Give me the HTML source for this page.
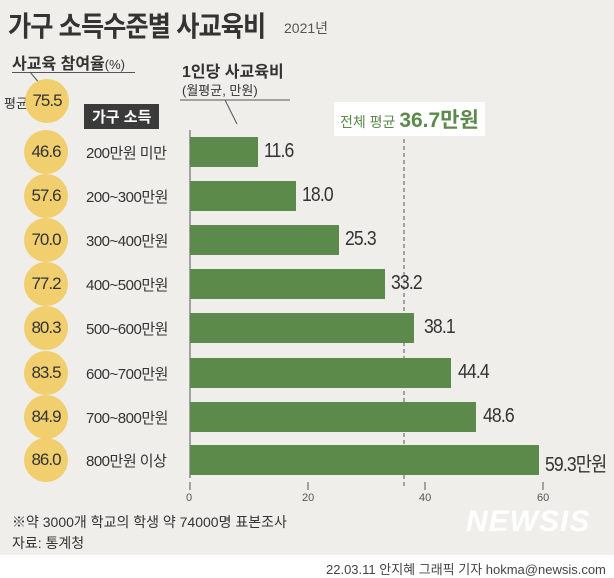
<!DOCTYPE html><html><head><meta charset="utf-8"><style>
body{margin:0;width:614px;height:578px;overflow:hidden;background:#efeeea;font-family:"Liberation Sans","Noto Sans CJK KR",sans-serif;position:relative;color:#333}
.a{position:absolute;white-space:nowrap}
.c{position:absolute;width:44px;height:44px;border-radius:50%;background:#f1cf6e;text-align:center;line-height:44px;font-size:17px;color:#333;letter-spacing:-1px}
.bar{position:absolute;left:190px;height:30px;background:#5c8a4a}
.l{font-size:15px;color:#333;letter-spacing:-0.5px}
.v{font-size:20px;color:#333;letter-spacing:-1px;transform:scaleX(0.88);transform-origin:left}
</style></head><body>
<div class="a" style="left:8px;top:5px;font-size:28px;font-weight:bold;color:#333;letter-spacing:-1px;transform:scaleX(0.9);transform-origin:left">가구 소득수준별 사교육비</div>
<div class="a" style="left:284px;top:18px;font-size:14px;color:#555">2021년</div>
<div class="a" style="left:12px;top:50px;font-size:16px;font-weight:bold">사교육 참여율<span style="font-weight:normal;font-size:13px">(%)</span></div>
<div class="a" style="left:12px;top:72px;width:123px;border-top:1px solid #555"></div>
<svg class="a" style="left:0;top:0" width="614" height="578"><path d="M30 72 L40 84" stroke="#555" fill="none"/><path d="M180 100 L290 100 M225 100 L237 124" stroke="#555" fill="none"/><line x1="404" y1="132" x2="404" y2="488" stroke="#555" stroke-dasharray="4,3"/>
<g stroke="#555"><line x1="190" y1="482" x2="190" y2="490"/><line x1="308" y1="482" x2="308" y2="490"/><line x1="425" y1="482" x2="425" y2="490"/><line x1="543" y1="482" x2="543" y2="490"/></g>
<line x1="190" y1="130" x2="190" y2="478" stroke="#555"/></svg>
<div class="a" style="left:4px;top:93px;font-size:13px">평균</div>
<div class="c" style="left:25px;top:79px">75.5</div>
<div class="a" style="left:84px;top:104px;background:#3a3a3a;color:#fff;font-size:15px;padding:2px 8px;font-weight:bold">가구 소득</div>
<div class="a" style="left:182px;top:58px;font-size:16px;font-weight:bold">1인당 사교육비</div>
<div class="a" style="left:182px;top:80px;font-size:13px">(월평균, 만원)</div>
<div class="a" style="left:334px;top:102px;background:#fff;padding:2px 6px;font-size:14px;color:#5c8a4a">전체 평균 <b style="font-size:21px">36.7만원</b></div>
<div class="c" style="left:24px;top:130px">46.6</div><div class="a l" style="left:86px;top:142px">200만원 미만</div><div class="bar" style="top:137px;width:68px"></div><div class="a v" style="left:264px;top:140px">11.6</div>
<div class="c" style="left:24px;top:174px">57.6</div><div class="a l" style="left:86px;top:186px">200~300만원</div><div class="bar" style="top:181px;width:106px"></div><div class="a v" style="left:302px;top:184px">18.0</div>
<div class="c" style="left:24px;top:218px">70.0</div><div class="a l" style="left:86px;top:230px">300~400만원</div><div class="bar" style="top:225px;width:149px"></div><div class="a v" style="left:345px;top:228px">25.3</div>
<div class="c" style="left:24px;top:262px">77.2</div><div class="a l" style="left:86px;top:274px">400~500만원</div><div class="bar" style="top:269px;width:195px"></div><div class="a v" style="left:391px;top:272px">33.2</div>
<div class="c" style="left:24px;top:306px">80.3</div><div class="a l" style="left:86px;top:318px">500~600만원</div><div class="bar" style="top:313px;width:224px"></div><div class="a v" style="left:424px;top:316px">38.1</div>
<div class="c" style="left:24px;top:351px">83.5</div><div class="a l" style="left:86px;top:363px">600~700만원</div><div class="bar" style="top:358px;width:261px"></div><div class="a v" style="left:458px;top:361px">44.4</div>
<div class="c" style="left:24px;top:395px">84.9</div><div class="a l" style="left:86px;top:407px">700~800만원</div><div class="bar" style="top:402px;width:286px"></div><div class="a v" style="left:483px;top:405px">48.6</div>
<div class="c" style="left:24px;top:438px">86.0</div><div class="a l" style="left:86px;top:450px">800만원 이상</div><div class="bar" style="top:445px;width:349px"></div><div class="a v" style="left:545px;top:448px">59.3만원</div>
<div class="a" style="left:186px;top:492px;font-size:11px;color:#555">0</div>
<div class="a" style="left:302px;top:492px;font-size:11px;color:#555">20</div>
<div class="a" style="left:419px;top:492px;font-size:11px;color:#555">40</div>
<div class="a" style="left:537px;top:492px;font-size:11px;color:#555">60</div>
<div class="a" style="left:12px;top:512px;font-size:14px">※약 3000개 학교의 학생 약 74000명 표본조사</div>
<div class="a" style="left:12px;top:533px;font-size:14px">자료: 통계청</div>
<div class="a" style="left:466px;top:505px;font-size:30px;font-weight:bold;font-style:italic;color:#fff;letter-spacing:1px">NEWSIS</div>
<div class="a" style="left:0;top:555px;width:614px;height:23px;background:#fff"></div>
<div class="a" style="left:326px;top:559px;font-size:13px;color:#444">22.03.11 안지혜 그래픽 기자 hokma@newsis.com</div>
</body></html>
